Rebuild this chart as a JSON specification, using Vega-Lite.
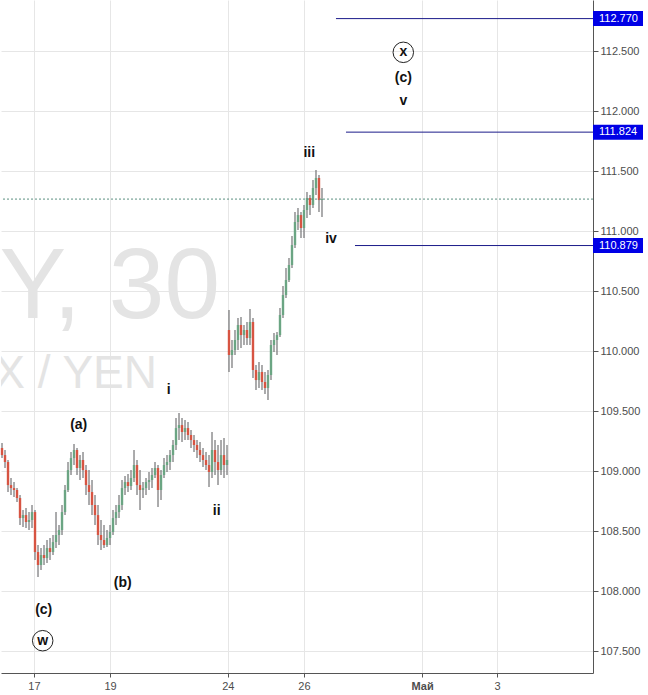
{
  "$schema": "https://vega.github.io/schema/vega-lite/v6.json",
  "width": 592,
  "height": 673,
  "padding": 0,
  "background": "white",
  "config": {"view": {"stroke": null}, "font": "Liberation Sans"},
  "datasets": {
    "candles": [
      {"t": -0.853, "o": 109.192, "h": 109.233, "l": 109.108, "c": 109.133},
      {"t": -0.773, "o": 109.133, "h": 109.175, "l": 109.025, "c": 109.075},
      {"t": -0.693, "o": 109.075, "h": 109.092, "l": 108.825, "c": 108.883},
      {"t": -0.613, "o": 108.883, "h": 108.942, "l": 108.8, "c": 108.858},
      {"t": -0.533, "o": 108.858, "h": 108.908, "l": 108.783, "c": 108.842},
      {"t": -0.453, "o": 108.842, "h": 108.858, "l": 108.742, "c": 108.775},
      {"t": -0.373, "o": 108.775, "h": 108.8, "l": 108.55, "c": 108.608},
      {"t": -0.293, "o": 108.608, "h": 108.675, "l": 108.533, "c": 108.633},
      {"t": -0.213, "o": 108.633, "h": 108.692, "l": 108.525, "c": 108.575},
      {"t": -0.133, "o": 108.575, "h": 108.658, "l": 108.508, "c": 108.592},
      {"t": -0.053, "o": 108.592, "h": 108.717, "l": 108.525, "c": 108.658},
      {"t": 0.027, "o": 108.658, "h": 108.675, "l": 108.258, "c": 108.325},
      {"t": 0.107, "o": 108.325, "h": 108.383, "l": 108.117, "c": 108.217},
      {"t": 0.187, "o": 108.217, "h": 108.358, "l": 108.175, "c": 108.3},
      {"t": 0.267, "o": 108.3, "h": 108.383, "l": 108.217, "c": 108.275},
      {"t": 0.347, "o": 108.275, "h": 108.425, "l": 108.233, "c": 108.358},
      {"t": 0.427, "o": 108.358, "h": 108.442, "l": 108.258, "c": 108.325},
      {"t": 0.507, "o": 108.325, "h": 108.467, "l": 108.3, "c": 108.408},
      {"t": 0.587, "o": 108.408, "h": 108.658, "l": 108.358, "c": 108.467},
      {"t": 0.667, "o": 108.467, "h": 108.55, "l": 108.383, "c": 108.508},
      {"t": 0.747, "o": 108.508, "h": 108.717, "l": 108.467, "c": 108.658},
      {"t": 0.827, "o": 108.658, "h": 108.883, "l": 108.633, "c": 108.842},
      {"t": 0.907, "o": 108.842, "h": 109.075, "l": 108.825, "c": 109.008},
      {"t": 0.987, "o": 109.008, "h": 109.158, "l": 108.967, "c": 109.108},
      {"t": 1.067, "o": 109.108, "h": 109.225, "l": 109.05, "c": 109.175},
      {"t": 1.147, "o": 109.175, "h": 109.192, "l": 108.967, "c": 109.025},
      {"t": 1.227, "o": 109.025, "h": 109.133, "l": 108.925, "c": 109.092},
      {"t": 1.307, "o": 109.092, "h": 109.158, "l": 108.942, "c": 109.008},
      {"t": 1.387, "o": 109.008, "h": 109.05, "l": 108.8, "c": 108.883},
      {"t": 1.467, "o": 108.883, "h": 109.008, "l": 108.717, "c": 108.825},
      {"t": 1.547, "o": 108.825, "h": 108.925, "l": 108.633, "c": 108.717},
      {"t": 1.627, "o": 108.717, "h": 108.8, "l": 108.55, "c": 108.633},
      {"t": 1.707, "o": 108.633, "h": 108.717, "l": 108.383, "c": 108.467},
      {"t": 1.787, "o": 108.467, "h": 108.592, "l": 108.342, "c": 108.425},
      {"t": 1.867, "o": 108.425, "h": 108.55, "l": 108.358, "c": 108.383},
      {"t": 1.947, "o": 108.383, "h": 108.508, "l": 108.367, "c": 108.442},
      {"t": 2.027, "o": 108.442, "h": 108.55, "l": 108.383, "c": 108.492},
      {"t": 2.107, "o": 108.492, "h": 108.675, "l": 108.467, "c": 108.608},
      {"t": 2.187, "o": 108.608, "h": 108.717, "l": 108.55, "c": 108.658},
      {"t": 2.267, "o": 108.658, "h": 108.8, "l": 108.608, "c": 108.717},
      {"t": 2.347, "o": 108.717, "h": 108.925, "l": 108.675, "c": 108.858},
      {"t": 2.427, "o": 108.858, "h": 108.958, "l": 108.8, "c": 108.908},
      {"t": 2.507, "o": 108.908, "h": 108.975, "l": 108.825, "c": 108.875},
      {"t": 2.587, "o": 108.875, "h": 109.008, "l": 108.842, "c": 108.942},
      {"t": 2.667, "o": 108.942, "h": 109.175, "l": 108.908, "c": 109.05},
      {"t": 2.747, "o": 109.05, "h": 109.092, "l": 108.8, "c": 108.883},
      {"t": 2.827, "o": 108.883, "h": 109.008, "l": 108.675, "c": 108.842},
      {"t": 2.907, "o": 108.842, "h": 108.908, "l": 108.775, "c": 108.858},
      {"t": 2.987, "o": 108.858, "h": 108.942, "l": 108.8, "c": 108.908},
      {"t": 3.067, "o": 108.908, "h": 108.992, "l": 108.842, "c": 108.925},
      {"t": 3.147, "o": 108.925, "h": 109.025, "l": 108.858, "c": 108.967},
      {"t": 3.227, "o": 108.967, "h": 109.075, "l": 108.942, "c": 109.025},
      {"t": 3.307, "o": 109.025, "h": 109.05, "l": 108.7, "c": 108.842},
      {"t": 3.387, "o": 108.842, "h": 109.008, "l": 108.758, "c": 108.967},
      {"t": 3.467, "o": 108.967, "h": 109.108, "l": 108.942, "c": 109.05},
      {"t": 3.547, "o": 109.05, "h": 109.133, "l": 108.992, "c": 109.075},
      {"t": 3.627, "o": 109.075, "h": 109.175, "l": 109.008, "c": 109.133},
      {"t": 3.707, "o": 109.133, "h": 109.258, "l": 109.075, "c": 109.217},
      {"t": 3.787, "o": 109.217, "h": 109.442, "l": 109.175, "c": 109.358},
      {"t": 3.867, "o": 109.358, "h": 109.483, "l": 109.258, "c": 109.383},
      {"t": 3.947, "o": 109.383, "h": 109.442, "l": 109.242, "c": 109.325},
      {"t": 4.027, "o": 109.325, "h": 109.425, "l": 109.258, "c": 109.358},
      {"t": 4.107, "o": 109.358, "h": 109.408, "l": 109.258, "c": 109.3},
      {"t": 4.187, "o": 109.3, "h": 109.342, "l": 109.192, "c": 109.258},
      {"t": 4.267, "o": 109.258, "h": 109.3, "l": 109.158, "c": 109.217},
      {"t": 4.347, "o": 109.217, "h": 109.258, "l": 109.108, "c": 109.175},
      {"t": 4.427, "o": 109.175, "h": 109.242, "l": 109.075, "c": 109.133},
      {"t": 4.507, "o": 109.133, "h": 109.192, "l": 109.033, "c": 109.092},
      {"t": 4.587, "o": 109.092, "h": 109.158, "l": 109.008, "c": 109.05},
      {"t": 4.667, "o": 109.05, "h": 109.133, "l": 108.867, "c": 108.992},
      {"t": 4.747, "o": 108.992, "h": 109.325, "l": 108.942, "c": 109.175},
      {"t": 4.827, "o": 109.175, "h": 109.258, "l": 108.967, "c": 109.075},
      {"t": 4.907, "o": 109.075, "h": 109.217, "l": 108.883, "c": 109.008},
      {"t": 4.987, "o": 109.008, "h": 109.258, "l": 108.967, "c": 109.133},
      {"t": 5.067, "o": 109.133, "h": 109.275, "l": 108.942, "c": 109.05},
      {"t": 5.147, "o": 109.05, "h": 109.217, "l": 108.967, "c": 109.092},
      {"t": 5.2, "o": 110.175, "h": 110.342, "l": 109.825, "c": 109.967},
      {"t": 5.28, "o": 109.967, "h": 110.092, "l": 109.858, "c": 110.008},
      {"t": 5.36, "o": 110.008, "h": 110.175, "l": 109.967, "c": 110.092},
      {"t": 5.44, "o": 110.092, "h": 110.275, "l": 110.008, "c": 110.217},
      {"t": 5.52, "o": 110.217, "h": 110.283, "l": 110.025, "c": 110.133},
      {"t": 5.6, "o": 110.133, "h": 110.217, "l": 110.05, "c": 110.175},
      {"t": 5.68, "o": 110.175, "h": 110.242, "l": 110.05, "c": 110.108},
      {"t": 5.76, "o": 110.108, "h": 110.35, "l": 110.05, "c": 110.242},
      {"t": 5.84, "o": 110.242, "h": 110.275, "l": 109.775, "c": 109.842},
      {"t": 5.92, "o": 109.842, "h": 109.883, "l": 109.675, "c": 109.758},
      {"t": 6.0, "o": 109.758, "h": 109.908, "l": 109.692, "c": 109.825},
      {"t": 6.08, "o": 109.825, "h": 109.883, "l": 109.675, "c": 109.742},
      {"t": 6.16, "o": 109.742, "h": 109.825, "l": 109.642, "c": 109.692},
      {"t": 6.24, "o": 109.692, "h": 109.842, "l": 109.592, "c": 109.8},
      {"t": 6.32, "o": 109.8, "h": 110.092, "l": 109.758, "c": 110.05},
      {"t": 6.4, "o": 110.05, "h": 110.15, "l": 109.992, "c": 110.092},
      {"t": 6.48, "o": 110.092, "h": 110.158, "l": 109.967, "c": 110.133},
      {"t": 6.56, "o": 110.133, "h": 110.358, "l": 110.117, "c": 110.3},
      {"t": 6.64, "o": 110.3, "h": 110.542, "l": 110.275, "c": 110.467},
      {"t": 6.72, "o": 110.467, "h": 110.692, "l": 110.442, "c": 110.592},
      {"t": 6.8, "o": 110.592, "h": 110.775, "l": 110.575, "c": 110.717},
      {"t": 6.88, "o": 110.717, "h": 110.958, "l": 110.692, "c": 110.883},
      {"t": 6.96, "o": 110.883, "h": 111.158, "l": 110.858, "c": 111.075},
      {"t": 7.04, "o": 111.075, "h": 111.192, "l": 111.008, "c": 111.133},
      {"t": 7.12, "o": 111.133, "h": 111.158, "l": 110.942, "c": 111.025},
      {"t": 7.2, "o": 111.025, "h": 111.217, "l": 110.942, "c": 111.175},
      {"t": 7.28, "o": 111.175, "h": 111.325, "l": 111.108, "c": 111.275},
      {"t": 7.36, "o": 111.275, "h": 111.3, "l": 111.133, "c": 111.217},
      {"t": 7.44, "o": 111.217, "h": 111.425, "l": 111.192, "c": 111.358},
      {"t": 7.52, "o": 111.358, "h": 111.508, "l": 111.3, "c": 111.442},
      {"t": 7.6, "o": 111.442, "h": 111.467, "l": 111.158, "c": 111.258},
      {"t": 7.68, "o": 111.258, "h": 111.358, "l": 111.117, "c": 111.266}
    ],
    "levels": [
      {"t0": 8.053, "t1": 14.907, "p": 112.77, "label": "112.770"},
      {"t0": 8.32, "t1": 14.907, "p": 111.824, "label": "111.824"},
      {"t0": 8.56, "t1": 14.907, "p": 110.879, "label": "110.879"}
    ],
    "waves": [
      {"t": 1.192, "p": 109.383, "label": "(a)"},
      {"t": 2.365, "p": 108.069, "label": "(b)"},
      {"t": 0.259, "p": 107.842, "label": "(c)"},
      {"t": 0.232, "p": 107.586, "label": "w"},
      {"t": 3.592, "p": 109.675, "label": "i"},
      {"t": 4.872, "p": 108.667, "label": "ii"},
      {"t": 7.341, "p": 111.65, "label": "iii"},
      {"t": 7.92, "p": 110.931, "label": "iv"},
      {"t": 9.848, "p": 112.489, "label": "x"},
      {"t": 9.848, "p": 112.273, "label": "(c)"},
      {"t": 9.848, "p": 112.083, "label": "v"}
    ],
    "circled": [
      {"t": 0.232, "p": 107.586},
      {"t": 9.848, "p": 112.489}
    ],
    "price": [{"p": 111.266}],
    "wm1": [{"t": 4.96, "p": 110.275, "label": "USDJPY, 30"}],
    "wm2": [{"t": 3.28, "p": 109.692, "label": "FOREX / YEN"}]
  },
  "layer": [
    {
      "data": {"name": "wm1"},
      "mark": {"type": "text", "clip": true, "align": "right", "baseline": "alphabetic", "fontSize": 100, "color": "#e4e4e4", "font": "Liberation Sans"},
      "encoding": {
        "x": {"field": "t", "type": "quantitative", "scale": {"domain": [-0.88, 14.907], "nice": false, "zero": false},
          "axis": {"orient": "bottom", "title": null, "values": [0, 2.03, 5.17, 7.2, 10.35, 12.35],
            "labelExpr": "datum.value < 1 ? '17' : datum.value < 3 ? '19' : datum.value < 6 ? '24' : datum.value < 8 ? '26' : datum.value < 11 ? 'Май' : '3'",
            "labelFontWeight": {"condition": {"test": "datum.value > 10 && datum.value < 11", "value": "bold"}, "value": "normal"},
            "grid": true, "gridColor": "#e6e6e6", "domainColor": "#555555", "tickColor": "#555555", "tickSize": 4,
            "labelPadding": 3, "labelFontSize": 11, "labelColor": "#4d4d4d", "labelFont": "Liberation Sans", "labelFlush": false}},
        "y": {"field": "p", "type": "quantitative", "scale": {"domain": [107.317, 112.925], "nice": false, "zero": false},
          "axis": {"orient": "right", "title": null, "values": [107.5, 108, 108.5, 109, 109.5, 110, 110.5, 111, 111.5, 112, 112.5],
            "format": ".3f", "grid": true, "gridColor": "#e6e6e6", "domainColor": "#555555", "tickColor": "#555555", "tickSize": 5,
            "labelPadding": 2, "labelFontSize": 11, "labelColor": "#4d4d4d", "labelFont": "Liberation Sans", "labelFlush": false}},
        "text": {"field": "label"}
      }
    },
    {
      "data": {"name": "wm2"},
      "mark": {"type": "text", "clip": true, "align": "right", "baseline": "alphabetic", "fontSize": 46, "color": "#e4e4e4", "font": "Liberation Sans"},
      "encoding": {
        "x": {"field": "t", "type": "quantitative", "title": null},
        "y": {"field": "p", "type": "quantitative", "title": null},
        "text": {"field": "label"}
      }
    },
    {
      "data": {"name": "candles"},
      "mark": {"type": "rule", "color": "#737375", "strokeWidth": 1.2},
      "encoding": {
        "x": {"field": "t", "type": "quantitative", "title": null},
        "y": {"field": "l", "type": "quantitative", "title": null},
        "y2": {"field": "h"}
      }
    },
    {
      "data": {"name": "candles"},
      "mark": {"type": "rule", "strokeWidth": 2.4},
      "encoding": {
        "x": {"field": "t", "type": "quantitative", "title": null},
        "y": {"field": "o", "type": "quantitative", "title": null},
        "y2": {"field": "c"},
        "color": {"condition": {"test": "datum.c >= datum.o", "value": "#6ba583"}, "value": "#d75442"}
      }
    },
    {
      "data": {"name": "price"},
      "mark": {"type": "rule", "color": "#5b8f80", "strokeWidth": 1, "strokeDash": [2, 2]},
      "encoding": {
        "y": {"field": "p", "type": "quantitative", "title": null}
      }
    },
    {
      "data": {"name": "levels"},
      "mark": {"type": "rule", "color": "#1b1b8a", "strokeWidth": 1},
      "encoding": {
        "x": {"field": "t0", "type": "quantitative", "title": null},
        "x2": {"field": "t1"},
        "y": {"field": "p", "type": "quantitative", "title": null}
      }
    },
    {
      "data": {"name": "levels"},
      "mark": {"type": "point", "shape": "M0,-0.3H2V0.3H0Z", "filled": true, "fill": "#0000e6", "opacity": 1, "strokeWidth": 0, "size": 2500},
      "encoding": {
        "x": {"field": "t1", "type": "quantitative", "title": null},
        "y": {"field": "p", "type": "quantitative", "title": null}
      }
    },
    {
      "data": {"name": "levels"},
      "mark": {"type": "text", "align": "left", "baseline": "middle", "dx": 6, "fontSize": 11, "color": "white", "font": "Liberation Sans"},
      "encoding": {
        "x": {"field": "t1", "type": "quantitative", "title": null},
        "y": {"field": "p", "type": "quantitative", "title": null},
        "text": {"field": "label"}
      }
    },
    {
      "data": {"name": "waves"},
      "mark": {"type": "text", "align": "center", "baseline": "middle", "fontSize": 14, "fontWeight": "bold", "color": "#111111", "font": "Liberation Sans"},
      "encoding": {
        "x": {"field": "t", "type": "quantitative", "title": null},
        "y": {"field": "p", "type": "quantitative", "title": null},
        "text": {"field": "label"}
      }
    },
    {
      "data": {"name": "circled"},
      "mark": {"type": "point", "shape": "circle", "filled": false, "stroke": "#222222", "strokeWidth": 1, "opacity": 1, "size": 420},
      "encoding": {
        "x": {"field": "t", "type": "quantitative", "title": null},
        "y": {"field": "p", "type": "quantitative", "title": null}
      }
    }
  ]
}
